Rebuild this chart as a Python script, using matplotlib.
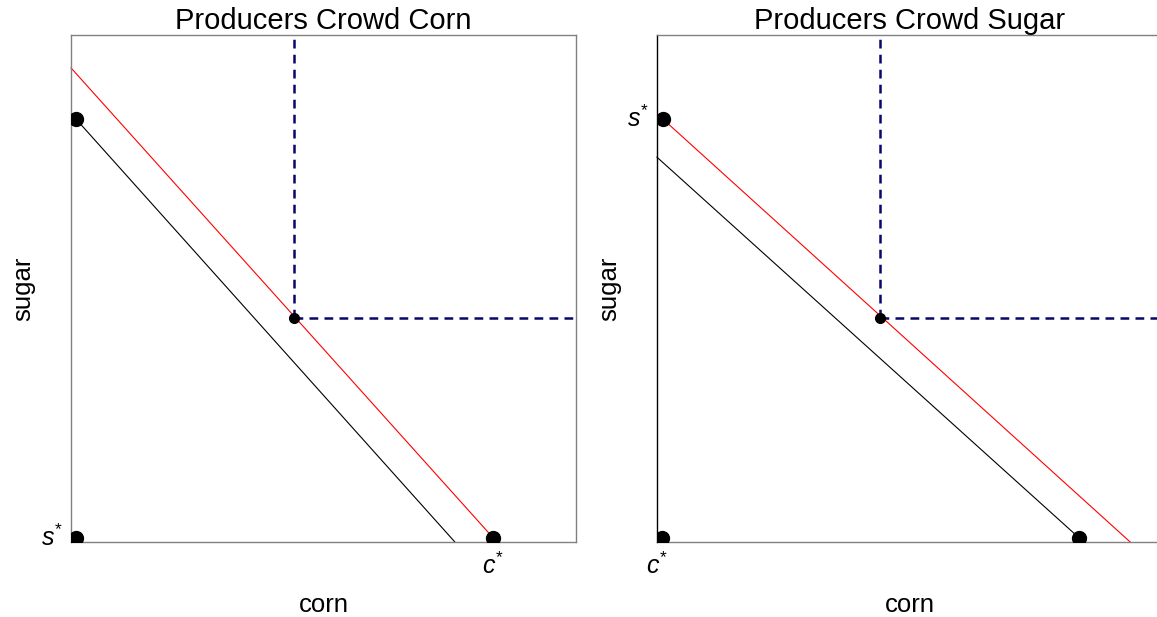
import matplotlib
matplotlib.use("Agg")
import matplotlib.pyplot as plt

plt.rcParams['font.family'] = ['Liberation Sans', 'DejaVu Sans']
plt.rcParams['mathtext.fontset'] = 'custom'
plt.rcParams['mathtext.it'] = 'Liberation Sans:italic'
plt.rcParams['mathtext.rm'] = 'Liberation Sans'

titles = ["Producers Crowd Corn", "Producers Crowd Sugar"]

# black (old) frontier and red (new) frontier, per panel: [x0, x1], [y0, y1]
black_x = [[0.1, 7.6], [0.0, 8.36]]
black_y = [[8.34, 0.0], [7.59, 0.08]]
red_x = [[0.0, 8.36], [0.12, 9.37]]
red_y = [[9.35, 0.08], [8.34, 0.0]]

# large dots
dots_x = [[0.1, 0.1, 8.36], [0.12, 0.1, 8.36]]
dots_y = [[8.34, 0.08, 0.08], [8.34, 0.08, 0.08]]

# equilibrium point and dashed corner
eq_x = [4.42, 4.42]
eq_y = [4.42, 4.42]

fig = plt.figure(figsize=(11.57, 6.17), dpi=100)
axes = [fig.add_axes([0.0614, 0.1216, 0.4365, 0.8217]),
        fig.add_axes([0.5678, 0.1216, 0.4365, 0.8217])]

for i, ax in enumerate(axes):
    ax.set_xlim(0, 10)
    ax.set_ylim(0, 10)
    ax.plot(red_x[i], red_y[i], color='red', lw=0.8, clip_on=False)
    ax.plot(black_x[i], black_y[i], color='black', lw=0.8, clip_on=False)
    ax.plot([eq_x[i], eq_x[i]], [eq_y[i], 10], color='#08086a', lw=1.8,
            dashes=(3.5, 2.5))
    ax.plot([eq_x[i], 10], [eq_y[i], eq_y[i]], color='#08086a', lw=1.8,
            dashes=(3.5, 2.5))
    ax.plot(eq_x[i], eq_y[i], 'o', color='black', ms=7, zorder=5)
    ax.plot(dots_x[i], dots_y[i], 'o', color='black', ms=10, zorder=5,
            clip_on=True, ls='none')
    ax.set_xticks([])
    ax.set_yticks([])
    for s in ax.spines.values():
        s.set_color('#808080')
        s.set_linewidth(1.0)
    ax.set_title(titles[i], fontsize=21, pad=3)
    ax.set_xlabel("corn", fontsize=18.5, labelpad=37)
    ax.set_ylabel("sugar", fontsize=18.5, labelpad=26)

axes[1].spines['left'].set_color('black')

# star labels
axes[0].text(-0.15, 0.08, r'$s^{*}$', ha='right', va='center', fontsize=18)
axes[0].text(8.36, -0.2, r'$c^{*}$', ha='center', va='top', fontsize=18)
axes[1].text(-0.15, 8.34, r'$s^{*}$', ha='right', va='center', fontsize=18)
axes[1].text(0.0, -0.2, r'$c^{*}$', ha='center', va='top', fontsize=18)

fig.savefig("out.png", dpi=100)
